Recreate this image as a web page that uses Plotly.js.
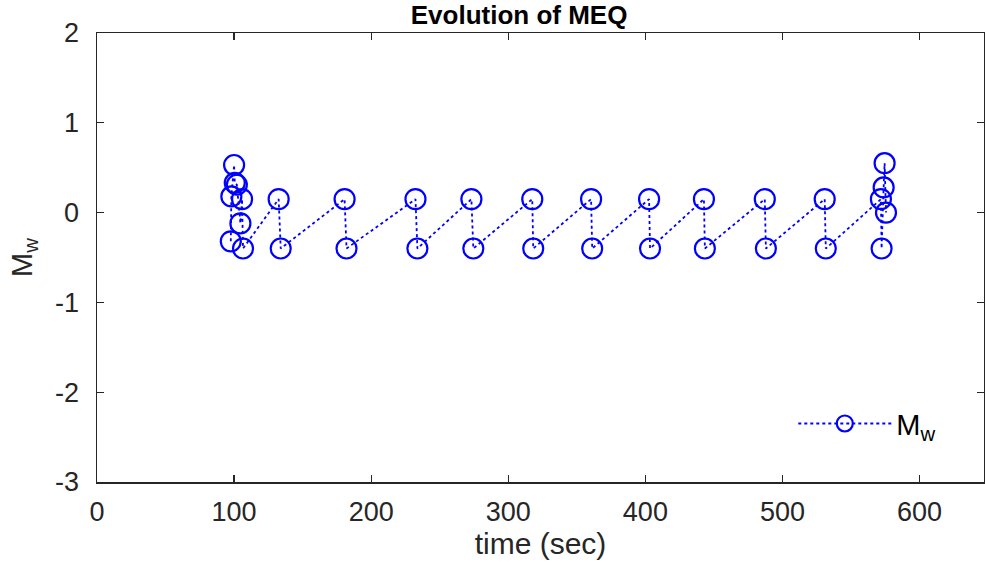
<!DOCTYPE html>
<html><head><meta charset="utf-8">
<script src="https://cdn.plot.ly/plotly-3.0.1.min.js"></script>
<style>html,body{margin:0;padding:0;background:#fff}#c{width:985px;height:565px}</style>
</head><body><div id="c"></div>
<script>
const timeSec = [97.6, 98.0, 100.0, 100.5, 102.0, 104.6, 105.8, 106.5,
  132.5, 134.0, 180.6, 182.0, 232.3, 233.7, 273.1, 274.5, 317.5, 318.2,
  360.4, 361.2, 402.7, 403.4, 442.7, 443.4, 487.1, 487.9, 530.8, 531.6,
  571.8, 572.3, 573.8, 574.5, 575.5];
const mw = [-0.32, 0.18, 0.53, 0.33, 0.31, -0.12, 0.15, -0.40,
  0.15, -0.40, 0.15, -0.40, 0.15, -0.40, 0.15, -0.40, 0.15, -0.40,
  0.15, -0.40, 0.15, -0.40, 0.15, -0.40, 0.15, -0.40, 0.15, -0.40,
  0.15, -0.40, 0.28, 0.55, 0.0];
const xTicks = [0, 100, 200, 300, 400, 500, 600];
const yTicks = [-3, -2, -1, 0, 1, 2];
const F = 'Liberation Sans, Arial, sans-serif';
const trace = {
  x: timeSec, y: mw, type: 'scatter', mode: 'lines+markers', name: 'M<sub>w</sub>',
  line: {color: '#0000ff', width: 1.8, dash: 'dot'},
  marker: {symbol: 'circle-open', size: 20, color: '#0000ff', line: {color: '#0000ff', width: 2.2}}
};
const axisCommon = {
  showgrid: false, zeroline: false, showline: true, linecolor: '#262626', linewidth: 1.5,
  mirror: 'ticks', ticks: 'inside', ticklen: 7, tickcolor: '#262626', tickwidth: 1.2,
  tickfont: {family: F, size: 27, color: '#262626'}
};
const layout = {
  width: 985, height: 565, paper_bgcolor: '#fff', plot_bgcolor: '#fff',
  margin: {l: 97, r: 1, t: 33, b: 83},
  title: {text: '<b>Evolution of MEQ</b>', font: {family: F, size: 26, color: '#000'}, x: 0.527, xanchor: 'center', y: 0.974, yanchor: 'middle'},
  xaxis: Object.assign({}, axisCommon, {range: [0, 647], tickvals: xTicks, ticktext: xTicks.map(String),
    ticklabelstandoff: 5,
    title: {text: 'time (sec)', font: {family: F, size: 30, color: '#262626'}, standoff: 6}}),
  yaxis: Object.assign({}, axisCommon, {range: [-3, 2], tickvals: yTicks, ticktext: yTicks.map(String),
    ticklabelstandoff: 11,
    title: {text: 'M<sub>w</sub>', font: {family: F, size: 29, color: '#262626'}, standoff: 14}}),
  showlegend: true,
  legend: {x: 0.785, y: 0.13, xanchor: 'left', yanchor: 'middle', bgcolor: 'rgba(0,0,0,0)',
    font: {family: F, size: 29, color: '#000'}, itemwidth: 93}
};
Plotly.newPlot('c', [trace], layout, {displayModeBar: false, staticPlot: true});
</script></body></html>
